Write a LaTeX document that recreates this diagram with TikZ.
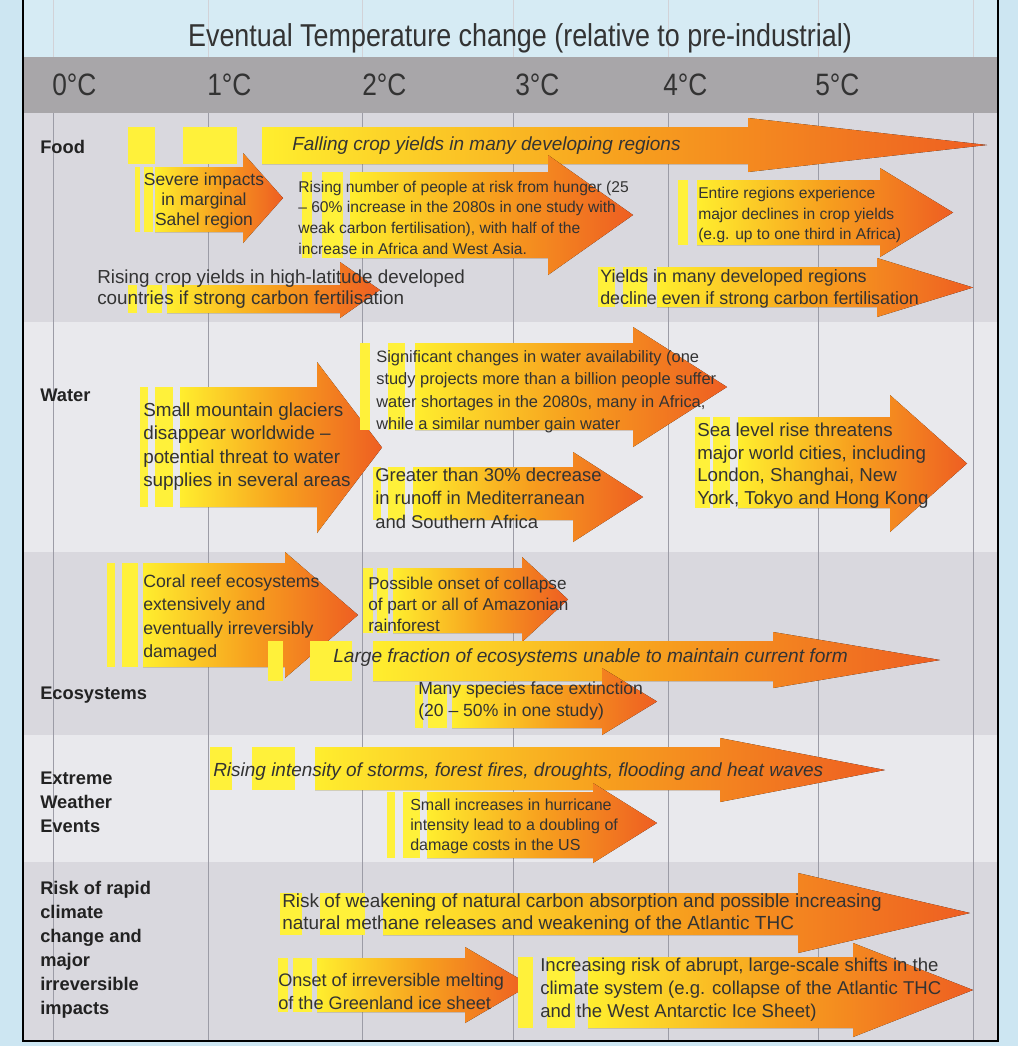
\documentclass[tikz,border=0pt]{standalone}
\usepackage{fontspec}
\setmainfont{Liberation Sans}
\newfontfamily\condfont{Liberation Sans}[FakeStretch=0.85]
\definecolor{skyBlue}{HTML}{CDE6F2}
\definecolor{titleBlue}{HTML}{D6EBF4}
\definecolor{headGray}{HTML}{A8A6A9}
\definecolor{rowDark}{HTML}{D9D8DE}
\definecolor{rowLight}{HTML}{E9E9ED}
\definecolor{gridGray}{HTML}{9C9CA6}
\definecolor{textGray}{HTML}{333333}
\definecolor{labelDark}{HTML}{222222}
\definecolor{arrowYellow}{HTML}{FFEE2E}
\definecolor{arrowOrange}{HTML}{F7A01E}
\definecolor{arrowRed}{HTML}{EE5E22}
\definecolor{tailYellow}{HTML}{FFF13A}
\newcommand{\txtsize}[2]{\fontsize{#1}{#2}\selectfont}
% body start, body top, body bottom, head base, head top, head bottom, tip
\newcommand{\impactarrow}[7]{%
  \fill[impact] (#1,#2) -- (#4,#2) -- (#4,#5) -- (#7,{(#5+#6)/2})
    -- (#4,#6) -- (#4,#3) -- (#1,#3) -- cycle;}

\begin{document}
\begin{tikzpicture}[
    x=0.025cm, y=-0.025cm,
    impact/.style={left color=arrowYellow, right color=arrowRed, middle color=arrowOrange},
    tail/.style={fill=tailYellow},
    txt/.style={anchor=west, inner sep=0pt, align=left, text=textGray},
    rowlbl/.style={anchor=west, inner sep=0pt, align=left, text=labelDark,
                   font=\bfseries\txtsize{13}{17}},
    degree/.style={anchor=west, inner sep=0pt, text=textGray, font=\condfont\txtsize{22}{26}},
    grid line/.style={draw=gridGray, line width=0.6pt},
]
\useasboundingbox (0,0) rectangle (1018,1046);
% Фон и полосы
\fill[skyBlue]   (0,0)    rectangle (1018,1046);
\fill[titleBlue] (23,0)   rectangle (998,57);
\fill[headGray]  (23,57)  rectangle (998,113);
\fill[rowDark]   (23,113) rectangle (998,322);
\fill[rowLight]  (23,322) rectangle (998,552);
\fill[rowDark]   (23,552) rectangle (998,735);
\fill[rowLight]  (23,735) rectangle (998,862);
\fill[rowDark]   (23,862) rectangle (998,1041);
\foreach \gx in {53,208,362,513,668,818,973} {
  \draw[grid line, draw=gridGray!45] (\gx,0) -- (\gx,57);
  \draw[grid line] (\gx,113) -- (\gx,1041);
}
\draw[line width=2pt] (23,0) -- (23,1041) -- (998,1041) -- (998,0);
% Шкала
\node[text=textGray, font=\condfont\txtsize{22.5}{26}] (title) at (520,38)
  {Eventual Temperature change (relative to pre-industrial)};
\foreach \t/\tx in {0/52,1/207,2/362,3/515,4/663,5/815}
  \node[degree] (deg\t) at (\tx,85) {\t°C};
% Подписи строк
\node[rowlbl] (food)  at (40,147) {Food};
\node[rowlbl] (water) at (40,395) {Water};
\node[rowlbl] (eco)   at (40,695) {Ecosystems};
\node[rowlbl] (storm) at (40,802) {Extreme\\ Weather\\ Events};
\node[rowlbl] (risk)  at (40,949.5) {Risk of rapid\\ climate\\ change and\\ major\\ irreversible\\ impacts};
% Food
\fill[tail] (128,127) rectangle (155,164);
\fill[tail] (183,127) rectangle (237,164);
\impactarrow{262}{127}{164}{748}{118}{172}{987}
\fill[tail] (135,167) rectangle (140,232);
\fill[tail] (144,167) rectangle (153,232);
\impactarrow{155}{167}{232}{243}{153}{243}{283}
\fill[tail] (302,172) rectangle (312,258);
\fill[tail] (322,172) rectangle (343,258);
\impactarrow{350}{172}{258}{548}{155}{275}{633}
\fill[tail] (678,180) rectangle (688,245);
\impactarrow{697}{180}{245}{880}{168}{257}{953}
\fill[tail] (128,285) rectangle (137,313);
\fill[tail] (147,285) rectangle (162,313);
\impactarrow{167}{285}{313}{340}{262}{318}{380}
\fill[tail] (598,267) rectangle (615,307);
\fill[tail] (623,267) rectangle (647,307);
\impactarrow{657}{267}{307}{877}{258}{317}{973}
\node[txt, font=\itshape\txtsize{13.5}{16}] (falling) at (292,146)
  {Falling crop yields in many developing regions};
\node[txt, align=center, anchor=center, font=\txtsize{12.4}{14.2}] (sahel) at (204,201)
  {Severe impacts\\ in marginal\\ Sahel region};
\node[txt, font=\txtsize{11.1}{14.7}] (hunger) at (298,217.5)
  {Rising number of people at risk from hunger (25\\ – 60\% increase in the 2080s in one study with\\ weak carbon fertilisation), with half of the\\ increase in Africa and West Asia.};
\node[txt, font=\txtsize{11.1}{14.6}] (declines) at (698,215)
  {Entire regions experience\\ major declines in crop yields\\ (e.g. up to one third in Africa)};
\node[txt, font=\txtsize{13.4}{15}] (highlat) at (97,289.5)
  {Rising crop yields in high-latitude developed\\ countries if strong carbon fertilisation};
\node[txt, font=\txtsize{12.7}{15.6}] (developed) at (600,289)
  {Yields in many developed regions\\ decline even if strong carbon fertilisation};
% Water
\fill[tail] (140,387) rectangle (148,507);
\fill[tail] (155,387) rectangle (173,507);
\impactarrow{180}{387}{507}{317}{362}{533}{382}
\fill[tail] (360,343) rectangle (370,430);
\fill[tail] (388,343) rectangle (405,430);
\impactarrow{415}{343}{430}{633}{327}{447}{727}
\fill[tail] (373,467) rectangle (381,520);
\fill[tail] (388,467) rectangle (405,520);
\impactarrow{413}{467}{520}{573}{452}{542}{643}
\fill[tail] (695,417) rectangle (710,508);
\fill[tail] (713,417) rectangle (730,508);
\impactarrow{738}{417}{508}{890}{395}{532}{967}
\node[txt, font=\txtsize{13.4}{16.6}] (glaciers) at (143,446.75)
  {Small mountain glaciers\\ disappear worldwide –\\ potential threat to water\\ supplies in several areas};
\node[txt, font=\txtsize{11.7}{15.9}] (shortage) at (376,391.75)
  {Significant changes in water availability (one\\ study projects more than a billion people suffer\\ water shortages in the 2080s, many in Africa,\\ while a similar number gain water};
\node[txt, font=\txtsize{13.1}{16.7}] (runoff) at (375,498)
  {Greater than 30\% decrease\\ in runoff in Mediterranean\\ and Southern Africa};
\node[txt, font=\txtsize{13.3}{16.1}] (sealevel) at (697,465.5)
  {Sea level rise threatens\\ major world cities, including\\ London, Shanghai, New\\ York, Tokyo and Hong Kong};
% Ecosystems
\fill[tail] (107,563) rectangle (115,667);
\fill[tail] (122,563) rectangle (138,667);
\impactarrow{143}{563}{667}{285}{552}{678}{358}
\fill[tail] (363,568) rectangle (373,633);
\fill[tail] (377,568) rectangle (388,633);
\impactarrow{393}{568}{633}{522}{557}{642}{568}
\fill[tail] (268,641) rectangle (283,681);
\fill[tail] (310,641) rectangle (352,681);
\impactarrow{373}{641}{681}{773}{632}{688}{940}
\fill[tail] (415,685) rectangle (423,728);
\fill[tail] (428,685) rectangle (447,728);
\impactarrow{452}{685}{728}{602}{668}{735}{657}
\node[txt, font=\txtsize{12.6}{16.6}] (coral) at (143,618)
  {Coral reef ecosystems\\ extensively and\\ eventually irreversibly\\ damaged};
\node[txt, font=\txtsize{12.2}{15}] (amazon) at (368,604)
  {Possible onset of collapse\\ of part or all of Amazonian\\ rainforest};
\node[txt, font=\itshape\txtsize{13.6}{16}] (fraction) at (333,658)
  {Large fraction of ecosystems unable to maintain current form};
\node[txt, font=\txtsize{12.5}{15.6}] (species) at (418,701)
  {Many species face extinction\\ (20 – 50\% in one study)};
% Extreme weather
\fill[tail] (210,747) rectangle (232,790);
\fill[tail] (252,747) rectangle (295,790);
\impactarrow{315}{747}{790}{720}{738}{802}{885}
\fill[tail] (387,792) rectangle (395,858);
\fill[tail] (403,792) rectangle (420,858);
\impactarrow{427}{792}{858}{593}{783}{863}{657}
\node[txt, font=\itshape\txtsize{13.5}{16}] (storms) at (213,772)
  {Rising intensity of storms, forest fires, droughts, flooding and heat waves};
\node[txt, font=\txtsize{11.4}{14.2}] (hurricane) at (410,826)
  {Small increases in hurricane\\ intensity lead to a doubling of\\ damage costs in the US};
% Risk
\fill[tail] (280,893) rectangle (302,935);
\fill[tail] (320,893) rectangle (365,935);
\impactarrow{383}{893}{935}{798}{873}{953}{970}
\fill[tail] (278,958) rectangle (288,1012);
\fill[tail] (293,958) rectangle (312,1012);
\impactarrow{317}{958}{1012}{465}{947}{1023}{530}
\fill[tail] (518,957) rectangle (533,1028);
\fill[tail] (547,957) rectangle (575,1028);
\impactarrow{588}{957}{1028}{853}{943}{1037}{973}
\node[txt, font=\txtsize{13.5}{15.6}] (methane) at (282,914)
  {Risk of weakening of natural carbon absorption and possible increasing\\ natural methane releases and weakening of the Atlantic THC};
\node[txt, font=\txtsize{12.9}{16.4}] (greenland) at (278,991.5)
  {Onset of irreversible melting\\ of the Greenland ice sheet};
\node[txt, font=\txtsize{13.2}{16.4}] (abrupt) at (540,990)
  {Increasing risk of abrupt, large-scale shifts in the\\ climate system (e.g. collapse of the Atlantic THC\\ and the West Antarctic Ice Sheet)};
\end{tikzpicture}
\end{document}
